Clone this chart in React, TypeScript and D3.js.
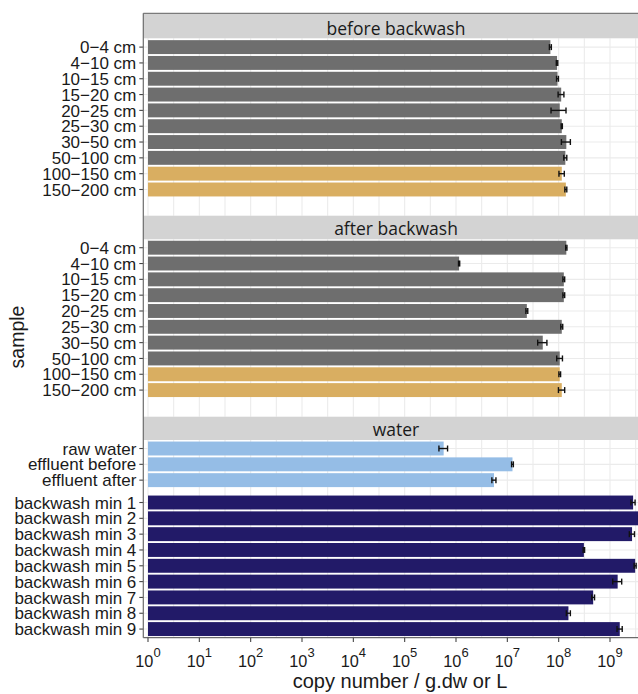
import React from 'react';
import * as d3 from 'd3';

// sample labels
const depthCats = ['0−4 cm', '4−10 cm', '10−15 cm', '15−20 cm', '20−25 cm', '25−30 cm', '30−50 cm', '50−100 cm', '100−150 cm', '150−200 cm'];
const waterCats = ['raw water', 'effluent before', 'effluent after'];
const backwashCats = ['backwash min 1', 'backwash min 2', 'backwash min 3', 'backwash min 4', 'backwash min 5', 'backwash min 6', 'backwash min 7', 'backwash min 8', 'backwash min 9'];

// copy numbers (mean) and standard deviation
const beforeValues = [6.9e7, 9.3e7, 9.5e7, 1.12e8, 1.05e8, 1.15e8, 1.41e8, 1.35e8, 1.15e8, 1.38e8];
const beforeSd = [3e6, 3e6, 4e6, 1.45e7, 3.4e7, 3e6, 2.8e7, 9e6, 1.37e7, 6e6];
const afterValues = [1.41e8, 1.15e6, 1.26e8, 1.26e8, 2.4e7, 1.15e8, 4.9e7, 1.05e8, 1.05e8, 1.15e8];
const afterSd = [4e6, 3e4, 5e6, 5e6, 1e6, 5e6, 1e7, 1.35e7, 4e6, 1.6e7];
const waterValues = [5.75e5, 1.26e7, 5.5e6];
const waterSd = [1.1e5, 5e5, 5e5];
const backwashValues = [2.82e9, 3.8e9, 2.69e9, 3.1e8, 3.09e9, 1.41e9, 4.7e8, 1.55e8, 1.55e9];
const backwashSd = [2.6e8, 2e8, 3.1e8, 1e7, 1.4e8, 2.8e8, 3e7, 1.4e7, 1.8e8];

const xTicks = [1e0, 1e1, 1e2, 1e3, 1e4, 1e5, 1e6, 1e7, 1e8, 1e9];

const COL_DEPTH = '#6e6e6e';
const COL_DEEP = '#d9ae61';
const COL_WATER = '#95bde6';
const COL_BACK = '#221a68';

const W = 638;
const H = 694;
const left = 143.3;
const right = 648.7;
const step = 15.82;

const x = d3.scaleLog().domain([1, 1e9]).range([148, 610]);

type Group = { cats: string[]; values: number[]; sd: number[]; color: (i: number) => string; start: number };
type Panel = { title: string; stripTop: number; stripBottom: number; bottom: number; baseline: number; groups: Group[] };

const depthColor = (i: number) => (i >= 8 ? COL_DEEP : COL_DEPTH);

const panels: Panel[] = [
  {
    title: 'before backwash', stripTop: 13.3, stripBottom: 38.3, bottom: 215.7, baseline: 35,
    groups: [{ cats: depthCats, values: beforeValues, sd: beforeSd, color: depthColor, start: 39.2 }],
  },
  {
    title: 'after backwash', stripTop: 215.7, stripBottom: 239.3, bottom: 416.7, baseline: 235,
    groups: [{ cats: depthCats, values: afterValues, sd: afterSd, color: depthColor, start: 239.8 }],
  },
  {
    title: 'water', stripTop: 416.7, stripBottom: 440, bottom: 637.7, baseline: 436,
    groups: [
      { cats: waterCats, values: waterValues, sd: waterSd, color: () => COL_WATER, start: 440.6 },
      { cats: backwashCats, values: backwashValues, sd: backwashSd, color: () => COL_BACK, start: 494.6 },
    ],
  },
];

const minorTicks = d3.range(0, 10).map(k => Math.pow(10, k + 0.5));

const App = () => {
  return (
    <svg width={W} height={H} style={{ position: 'absolute', left: 0, top: 0, background: '#fff' }}
      fontFamily="'Liberation Sans', Arial, sans-serif">
      {panels.map(p => {
        const scales = p.groups.map(g =>
          d3.scaleBand().domain(g.cats).range([g.start, g.start + g.cats.length * step]).padding(0));
        return (
          <g key={p.title}>
            {/* vertical grid */}
            {xTicks.concat(minorTicks).map((t, i) => (
              <line key={i} x1={x(t)} x2={x(t)} y1={p.stripBottom} y2={p.bottom} stroke="#ebebeb" strokeWidth={1.1} />
            ))}
            {/* horizontal grid */}
            {p.groups.map((g, gi) => g.cats.map(c => {
              const yc = scales[gi](c)! + scales[gi].bandwidth() / 2;
              return <line key={c} x1={left} x2={right} y1={yc} y2={yc} stroke="#ebebeb" strokeWidth={1.1} />;
            }))}
            {/* bars */}
            {p.groups.map((g, gi) => g.values.map((v, i) => {
              const y = scales[gi];
              const bh = y.bandwidth() * 0.88;
              const yc = y(g.cats[i])! + y.bandwidth() / 2;
              return <rect key={g.cats[i]} x={x(1)} y={yc - bh / 2} width={x(v) - x(1)} height={bh} fill={g.color(i)} />;
            }))}
            {/* error bars */}
            {p.groups.map((g, gi) => g.values.map((v, i) => {
              const y = scales[gi];
              const yc = y(g.cats[i])! + y.bandwidth() / 2;
              const x0 = x(v - g.sd[i]);
              const x1 = x(v + g.sd[i]);
              const ch = 3;
              return (
                <g key={'e' + i} stroke="#111" strokeWidth={1.4}>
                  <line x1={x0} x2={x1} y1={yc} y2={yc} />
                  <line x1={x0} x2={x0} y1={yc - ch} y2={yc + ch} />
                  <line x1={x1} x2={x1} y1={yc - ch} y2={yc + ch} />
                </g>
              );
            }))}
            {/* strip */}
            <rect x={left} y={p.stripTop} width={right - left} height={p.stripBottom - p.stripTop} fill="#d3d3d3" />
            <text x={(left + right) / 2} y={p.baseline} textAnchor="middle" fontFamily="'Open Sans', sans-serif"
              fontSize={17.5} fill="#1a1a1a">{p.title}</text>
            {/* y axis labels and ticks */}
            {p.groups.map((g, gi) => g.cats.map(c => {
              const yc = scales[gi](c)! + scales[gi].bandwidth() / 2;
              return (
                <g key={'l' + c}>
                  <line x1={left - 4} x2={left} y1={yc} y2={yc} stroke="#444" strokeWidth={1.1} />
                  <text x={left - 7} y={yc} dy="0.36em" textAnchor="end" fontSize={17} fill="#1a1a1a">{c}</text>
                </g>
              );
            }))}
          </g>
        );
      })}
      {/* frame */}
      <line x1={left} x2={right} y1={13.3} y2={13.3} stroke="#7a7a7a" strokeWidth={1.2} />
      <line x1={left} x2={left} y1={13.3} y2={637.7} stroke="#6b6b6b" strokeWidth={1.2} />
      <line x1={left} x2={right} y1={637.7} y2={637.7} stroke="#6b6b6b" strokeWidth={1.2} />
      {/* x axis */}
      {xTicks.map((t, i) => (
        <g key={'x' + i}>
          <line x1={x(t)} x2={x(t)} y1={637.7} y2={642} stroke="#444" strokeWidth={1.1} />
          <text x={x(t)} y={666.5} textAnchor="middle" fontSize={16.3} fill="#1a1a1a">
            10<tspan dy={-9.5} fontSize={13}>{Math.round(Math.log10(t))}</tspan>
          </text>
        </g>
      ))}
      <text x={400} y={688} textAnchor="middle" fontSize={20} fill="#1a1a1a">copy number / g.dw or L</text>
      <text transform="translate(24,337) rotate(-90)" textAnchor="middle" fontSize={19.5} fill="#1a1a1a">sample</text>
    </svg>
  );
};

export default App;
